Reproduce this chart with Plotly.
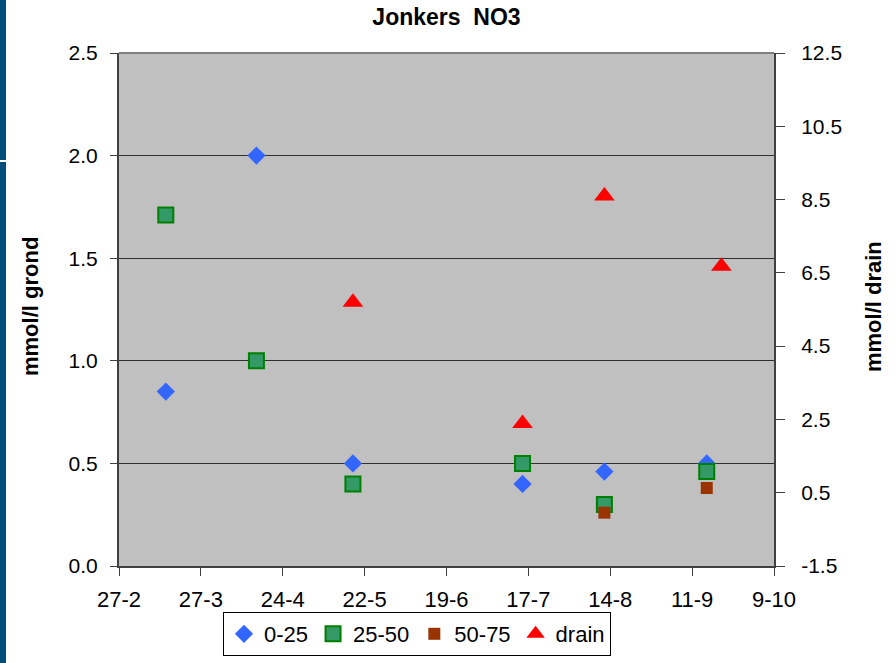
import plotly.graph_objects as go

# sample dates (year has no leap day: 27-2 -> 27-3 is 28 days)
dates_soil = ["2007-03-15", "2007-04-15", "2007-05-18", "2007-07-15", "2007-08-12", "2007-09-16"]
d0_25 = [0.85, 2.0, 0.5, 0.40, 0.46, 0.5]
d25_50 = [1.71, 1.0, 0.4, 0.5, 0.3, 0.46]

dates_deep = ["2007-08-12", "2007-09-16"]
d50_75 = [0.26, 0.38]

dates_drain = ["2007-05-18", "2007-07-15", "2007-08-12", "2007-09-21"]
drain = [5.7, 2.39, 8.6, 6.68]

xtick_dates = ["2007-02-27", "2007-03-27", "2007-04-24", "2007-05-22", "2007-06-19",
               "2007-07-17", "2007-08-14", "2007-09-11", "2007-10-09"]
xtick_text = ["27-2", "27-3", "24-4", "22-5", "19-6", "17-7", "14-8", "11-9", "9-10"]

y1_ticks = [0, 0.5, 1.0, 1.5, 2.0, 2.5]
y2_ticks = [-1.5, 0.5, 2.5, 4.5, 6.5, 8.5, 10.5, 12.5]
y2_text = ["-1.5", "0.5", "2.5", "4.5", "6.5", "8.5", "10.5", "12.5"]

FONT = "Liberation Sans, Arial, sans-serif"
W, H = 896, 663
L, R, T, B = 119, 122, 53, 97
pw, ph = W - L - R, H - T - B

fig = go.Figure()
fig.add_trace(go.Scatter(x=dates_soil, y=d0_25, mode="markers", name="0-25",
                         marker=dict(symbol="diamond", size=14, color="#3366FF")))
fig.add_trace(go.Scatter(x=dates_soil, y=d25_50, mode="markers", name="25-50",
                         marker=dict(symbol="square", size=15, color="#339966",
                                     line=dict(color="#008000", width=2))))
fig.add_trace(go.Scatter(x=dates_deep, y=d50_75, mode="markers", name="50-75",
                         marker=dict(symbol="square", size=12, color="#993300")))
fig.add_trace(go.Scatter(x=dates_drain, y=drain, mode="markers", name="drain", yaxis="y2",
                         marker=dict(symbol="triangle-up", size=18, color="#FF0000")))

fig.update_layout(
    width=W, height=H,
    margin=dict(l=L, r=R, t=T, b=B, autoexpand=False),
    paper_bgcolor="white",
    plot_bgcolor="#C0C0C0",
    font=dict(family=FONT, color="black"),
    title=dict(text="<b>Jonkers  NO3</b>", x=(L + pw / 2) / W, xanchor="center",
               y=1 - 17 / H, yanchor="middle", font=dict(size=23)),
    xaxis=dict(range=[xtick_dates[0], xtick_dates[-1]], tickvals=xtick_dates, ticktext=xtick_text,
               showgrid=False, zeroline=False, showline=True, linecolor="#404040", linewidth=2,
               ticks="outside", ticklen=8, tickcolor="#404040", tickfont=dict(size=22),
               ticklabelstandoff=5),
    yaxis=dict(range=[0, 2.5], tickvals=y1_ticks, tickformat=".1f", showgrid=True,
               gridcolor="#303030", gridwidth=1, zeroline=False, showline=True,
               linecolor="#404040", linewidth=2, ticks="outside", ticklen=7,
               tickcolor="#404040", tickfont=dict(size=21), ticklabelstandoff=8),
    yaxis2=dict(range=[-1.5, 12.5], tickvals=y2_ticks, ticktext=y2_text, overlaying="y",
                side="right", showgrid=False, zeroline=False, showline=True,
                linecolor="#404040", linewidth=2, ticks="outside", ticklen=9,
                tickcolor="#404040", tickfont=dict(size=21), ticklabelstandoff=12),
    legend=dict(orientation="h", x=(417 - L) / pw, xanchor="center", y=-(612 - (T + ph)) / ph,
                yanchor="top", bgcolor="white", bordercolor="black", borderwidth=1,
                font=dict(size=22), itemwidth=30, tracegroupgap=0),
    showlegend=True,
)

# top border of the plot area
fig.add_shape(type="line", xref="paper", yref="paper", x0=0, x1=1, y0=1, y1=1,
              line=dict(color="#808080", width=2))
# slide edge strip on the left
fig.add_shape(type="rect", xref="paper", yref="paper", x0=-L / pw, x1=-(L - 6) / pw,
              y0=-B / ph, y1=1 + T / ph, line=dict(width=0), fillcolor="#004C7A", layer="below")
fig.add_shape(type="rect", xref="paper", yref="paper", x0=-L / pw, x1=-(L - 6) / pw,
              y0=(T + ph - 162) / ph, y1=(T + ph - 160) / ph, line=dict(width=0),
              fillcolor="white")

fig.add_annotation(text="<b>mmol/l grond</b>", xref="paper", yref="paper",
                   x=(30 - L) / pw, y=(T + ph - 307) / ph, showarrow=False, textangle=-90,
                   font=dict(size=22), xanchor="center", yanchor="middle")
fig.add_annotation(text="<b>mmol/l drain</b>", xref="paper", yref="paper",
                   x=(873 - L) / pw, y=(T + ph - 307) / ph, showarrow=False, textangle=-90,
                   font=dict(size=22), xanchor="center", yanchor="middle")

fig.write_html("out.html", config={"displayModeBar": False},
               post_script="document.body.style.margin='0';")
